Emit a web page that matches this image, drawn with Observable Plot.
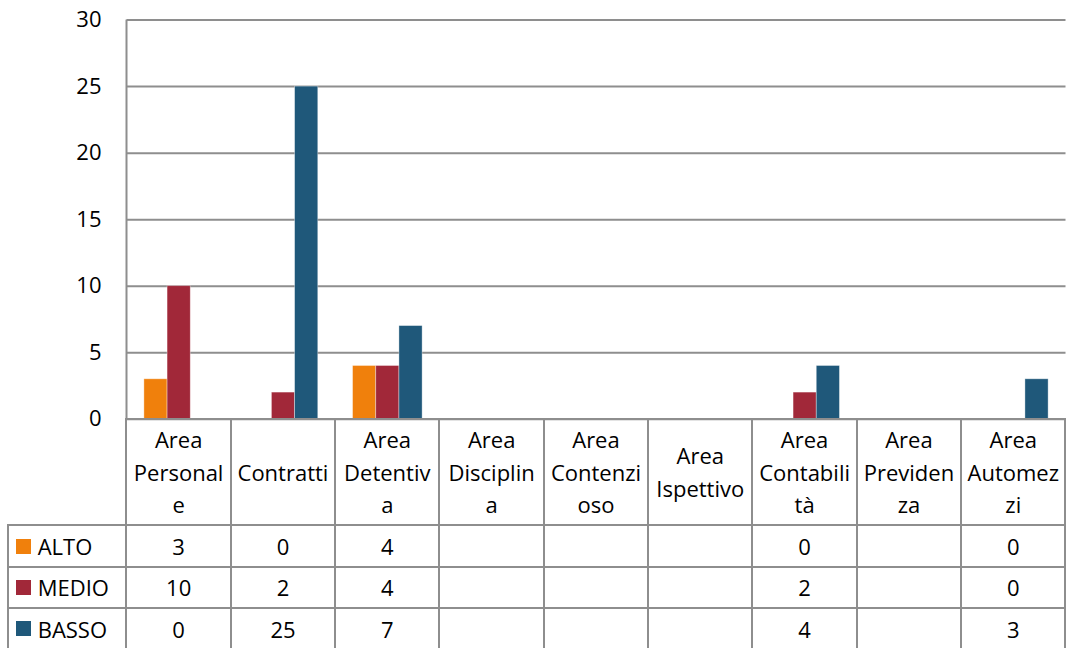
<!DOCTYPE html>
<html>
<head>
<meta charset="utf-8">
<script src="https://cdn.jsdelivr.net/npm/d3@7"></script>
<script src="https://cdn.jsdelivr.net/npm/@observablehq/plot@0.6"></script>
<style>
  html, body { margin: 0; padding: 0; background: #fff; }
  #wrap { position: relative; width: 1067px; height: 648px; overflow: hidden;
          font-family: "Open Sans", "Noto Sans", sans-serif; color: #000; }
  #chart { position: absolute; left: 0; top: 0; }
  #table { position: absolute; display: grid; }
  .cell { box-sizing: border-box; border-left: 2px solid #8e8e8e; border-top: 2px solid #8e8e8e;
          display: flex; align-items: center; justify-content: center; font-size: 22px; }
  .cell.head { white-space: pre; text-align: center; line-height: 32.5px; }
  .cell.blank { border: none; }
  .cell.last { border-right: 2px solid #8e8e8e; }
  .cell.key { justify-content: flex-start; padding-left: 7px; }
  .swatch { display: inline-block; width: 15px; height: 15px; margin-right: 7px; }
</style>
</head>
<body>
<div id="wrap">
  <div id="chart"></div>
  <div id="table"></div>
</div>
<script>
// Categories and the three risk levels per category (null = empty cell)
const categories = ["Area Personale", "Contratti", "Area Detentiva", "Area Disciplina",
  "Area Contenzioso", "Area Ispettivo", "Area Contabilità", "Area Previdenza", "Area Automezzi"];
const headerLabels = ["Area\nPersonal\ne", "Contratti", "Area\nDetentiv\na", "Area\nDisciplin\na",
  "Area\nContenzi\noso", "Area\nIspettivo", "Area\nContabili\ntà", "Area\nPreviden\nza", "Area\nAutomez\nzi"];
const seriesNames = ["ALTO", "MEDIO", "BASSO"];
const alto  = [3, 0, 4, null, null, null, 0, null, 0];
const medio = [10, 2, 4, null, null, null, 2, null, 0];
const basso = [0, 25, 7, null, null, null, 4, null, 3];
const seriesValues = [alto, medio, basso];
const seriesColors = ["#f0800c", "#a12839", "#1f587a"];
const yTicks = [0, 5, 10, 15, 20, 25, 30];

// Layout
const W = 1067, H = 432;
const axisX = 126.5, rightX = 1065.5, yTop = 19.6, yZero = 418.7;
const band = (rightX - axisX) / categories.length;
const barW = band / 4.5;
const gridColor = "#8e8e8e";
const font = '"Open Sans", "Noto Sans", sans-serif';

const rows = categories.flatMap((c, i) =>
  seriesNames.map((s, j) => ({category: c, series: s, value: seriesValues[j][i]})));

const bars = seriesNames.map((s, j) =>
  Plot.barY(rows.filter(d => d.series === s && d.value), {
    x: "category", y: "value", fill: seriesColors[j],
    insetLeft: barW * (0.75 + j), insetRight: band - barW * (1.75 + j),
    stroke: "#ffffff", strokeOpacity: 0.45, strokeWidth: 0.8
  }));

const chart = Plot.plot({
  width: W, height: H,
  marginLeft: axisX, marginRight: W - rightX, marginTop: yTop, marginBottom: H - yZero,
  x: {domain: categories, axis: null, paddingInner: 0, paddingOuter: 0, round: false},
  y: {domain: [0, 30], axis: null},
  style: {fontFamily: font, fontSize: "22px", color: "#000", background: "transparent", overflow: "visible"},
  marks: [
    Plot.gridY(yTicks, {stroke: gridColor, strokeOpacity: 1, strokeWidth: 2}),
    ...bars,
    // vertical value axis line
    Plot.barY([categories[0]], {x: d => d, y1: 0, y2: 30, fill: gridColor,
      insetLeft: -1, insetRight: band - 1}),
    Plot.axisY(yTicks, {tickSize: 0, tickPadding: 25.5, fontSize: 22, label: null, fill: "#000"})
  ]
});
document.getElementById("chart").append(chart);

// Data table below the chart
const table = d3.select("#table")
  .style("left", (7.7 - 1) + "px")
  .style("top", (yZero - 1) + "px")
  .style("grid-template-columns", `${axisX - 7.7}px repeat(${categories.length - 1}, ${band}px) ${band + 2}px`)
  .style("grid-template-rows", "106.6px 41.7px 41px 42px");

table.append("div").attr("class", "cell blank");
headerLabels.forEach((t, i) => {
  table.append("div")
    .attr("class", "cell head" + (i === categories.length - 1 ? " last" : ""))
    .text(t);
});
seriesNames.forEach((s, j) => {
  const key = table.append("div").attr("class", "cell key");
  key.append("span").attr("class", "swatch").style("background", seriesColors[j]);
  key.append("span").text(s);
  seriesValues[j].forEach((v, i) => {
    table.append("div")
      .attr("class", "cell" + (i === categories.length - 1 ? " last" : ""))
      .text(v == null ? "" : v);
  });
});
</script>
</body>
</html>
